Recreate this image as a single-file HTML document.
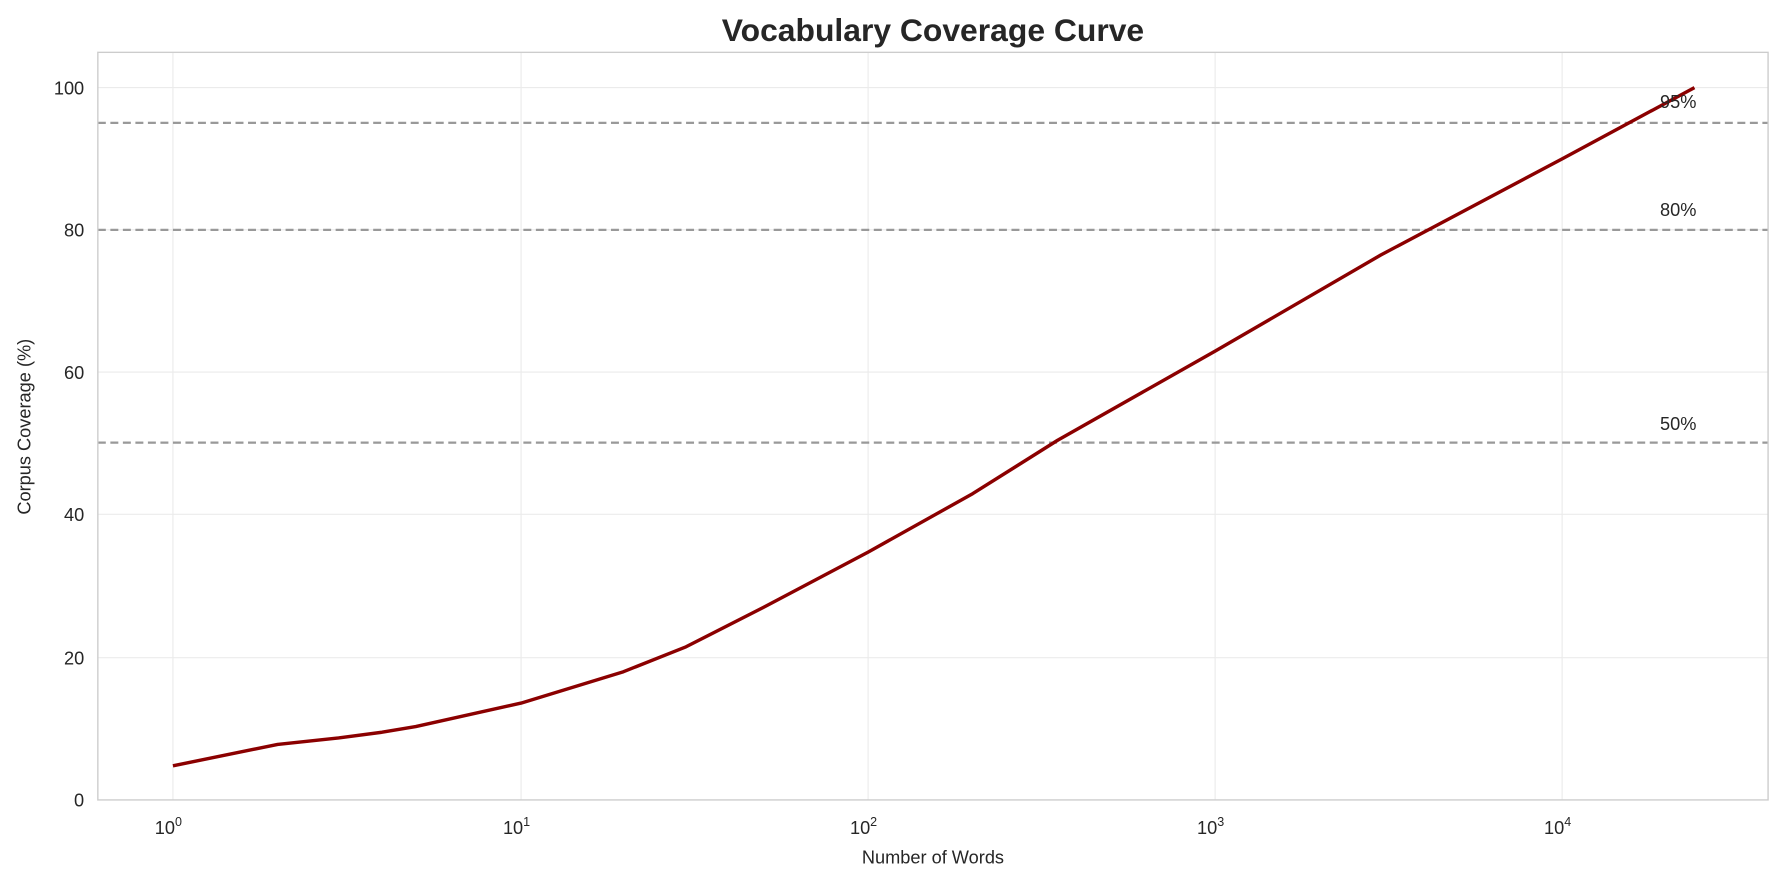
<!DOCTYPE html>
<html><head><meta charset="utf-8"><style>body{margin:0;background:#fff}svg{display:block}text{font-family:"Liberation Sans","DejaVu Sans",sans-serif;fill:#262626}</style></head>
<body>
<svg width="1784" height="883" viewBox="0 0 1568 776" preserveAspectRatio="none" xmlns="http://www.w3.org/2000/svg">
<rect width="1568" height="776" fill="#fff"/>
<g stroke="#ebebeb" stroke-width="1">
<line x1="152" y1="46" x2="152" y2="703"/><line x1="458" y1="46" x2="458" y2="703"/><line x1="763" y1="46" x2="763" y2="703"/><line x1="1068" y1="46" x2="1068" y2="703"/><line x1="1373" y1="46" x2="1373" y2="703"/>
<line x1="86" y1="77" x2="1554" y2="77"/><line x1="86" y1="202" x2="1554" y2="202"/><line x1="86" y1="327" x2="1554" y2="327"/><line x1="86" y1="452" x2="1554" y2="452"/><line x1="86" y1="578" x2="1554" y2="578"/>
</g>
<g stroke="#999" stroke-width="2" stroke-dasharray="7,4">
<line x1="86" y1="108" x2="1554" y2="108"/><line x1="86" y1="202" x2="1554" y2="202"/><line x1="86" y1="389" x2="1554" y2="389"/>
</g>
<polyline fill="none" stroke="#8b0000" stroke-width="3" stroke-linejoin="round" points="152,673 244,654.2 297.6,648.5 335.8,643.5 365.4,638.5 458,617.9 548,590.3 603,568.4 670.6,534 763,485.2 855,433.8 929.6,386.9 1068,308.6 1213.6,224.1 1373,139.6 1489.3,77"/>
<rect x="86" y="46" width="1468" height="657" fill="none" stroke="#ccc" stroke-width="1.2"/>
<g font-size="16">
<text x="1459" y="95">95%</text><text x="1459" y="190">80%</text><text x="1459" y="378">50%</text>
</g>
<g font-size="16" text-anchor="end">
<text x="74" y="709">0</text><text x="74" y="584">20</text><text x="74" y="458">40</text><text x="74" y="333">60</text><text x="74" y="208">80</text><text x="74" y="83">100</text>
</g>
<g font-size="16" text-anchor="middle">
<text x="148" y="733">10<tspan font-size="11" dy="-7">0</tspan></text>
<text x="454" y="733">10<tspan font-size="11" dy="-7">1</tspan></text>
<text x="759" y="733">10<tspan font-size="11" dy="-7">2</tspan></text>
<text x="1064" y="733">10<tspan font-size="11" dy="-7">3</tspan></text>
<text x="1369" y="733">10<tspan font-size="11" dy="-7">4</tspan></text>
<text x="820" y="759">Number of Words</text>
<text transform="translate(27,375) rotate(-90)">Corpus Coverage (%)</text>
<text x="820" y="36" font-size="28" font-weight="bold">Vocabulary Coverage Curve</text>
</g>
</svg>
</body></html>
